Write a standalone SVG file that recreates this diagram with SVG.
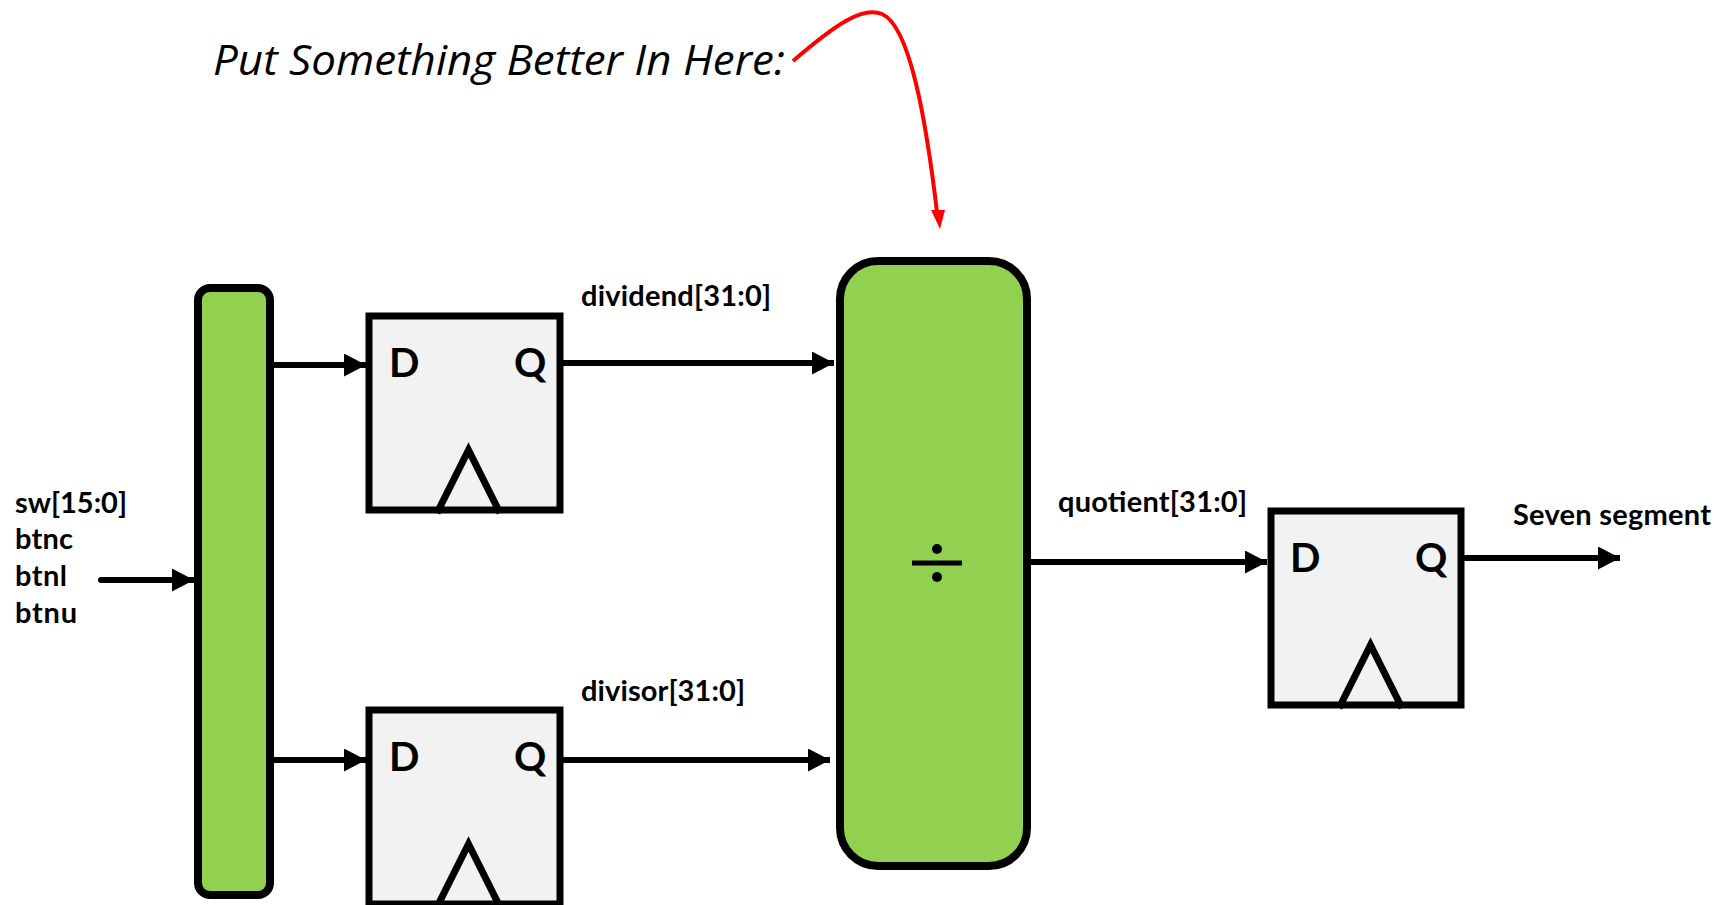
<svg xmlns="http://www.w3.org/2000/svg" width="1733" height="905" viewBox="0 0 1733 905">
  <style>
    .blk { fill: #92D050; stroke: #000; stroke-width: 8; }
    .ff { fill: #F2F2F2; stroke: #000; stroke-width: 7; }
    .clk { fill: none; stroke: #000; stroke-width: 7; stroke-linejoin: miter; }
    .wire { fill: none; stroke: #000; stroke-width: 6; }
    .lbl { font-family: Lato, "Liberation Sans", sans-serif; font-weight: bold; font-size: 29px; fill: #000; }
    .pin { font-family: Lato, "Liberation Sans", sans-serif; font-weight: bold; font-size: 40px; fill: #000; }
    .note { font-family: "Open Sans", "Liberation Sans", sans-serif; font-style: italic; font-size: 42px; fill: #000; }
  </style>
  <defs>
    <marker id="arrow" markerUnits="userSpaceOnUse" markerWidth="24" markerHeight="24" refX="22" refY="11.5" orient="auto">
      <path d="M0,0 L22,11.5 L0,23 z" fill="#000"/>
    </marker>
  </defs>

  <rect width="1733" height="905" fill="#fff"/>

  <!-- annotation -->
  <g id="note">
    <text class="note" x="213" y="75" textLength="572" lengthAdjust="spacingAndGlyphs">Put Something Better In Here:</text>
  </g>

  <!-- input labels -->
  <g id="inputs">
    <text class="lbl" x="15" y="513" textLength="112">sw[15:0]</text>
    <text class="lbl" x="15" y="549" textLength="58">btnc</text>
    <text class="lbl" x="15" y="586" textLength="52">btnl</text>
    <text class="lbl" x="15" y="623" textLength="62">btnu</text>
  </g>

  <!-- input splitter -->
  <g id="splitter">
    <rect class="blk" x="198" y="288" width="72" height="607" rx="12"/>
  </g>

  <!-- dividend register -->
  <g id="ff-dividend">
    <rect class="ff" x="369" y="316" width="191" height="194"/>
    <polyline class="clk" points="437,513 468.5,450 500,513"/>
    <text class="pin" x="389" y="377">D</text>
    <text class="pin" x="514" y="377">Q</text>
  </g>

  <!-- divisor register -->
  <g id="ff-divisor">
    <rect class="ff" x="369" y="710" width="191" height="194"/>
    <polyline class="clk" points="437,907 468.5,844 500,907"/>
    <text class="pin" x="389" y="771">D</text>
    <text class="pin" x="514" y="771">Q</text>
  </g>

  <!-- divider -->
  <g id="divider">
    <rect class="blk" x="840" y="261" width="187" height="605" rx="38"/>
    <line x1="912" y1="563" x2="962" y2="563" stroke="#000" stroke-width="5"/>
    <circle cx="937" cy="549" r="5" fill="#000"/>
    <circle cx="937" cy="577" r="5" fill="#000"/>
  </g>

  <!-- quotient register -->
  <g id="ff-quotient">
    <rect class="ff" x="1271" y="511" width="190" height="194"/>
    <polyline class="clk" points="1339,708 1370.5,645 1402,708"/>
    <text class="pin" x="1290" y="572">D</text>
    <text class="pin" x="1415" y="572">Q</text>
  </g>

  <!-- signal labels -->
  <g id="labels">
    <text class="lbl" x="581" y="306" textLength="190">dividend[31:0]</text>
    <text class="lbl" x="581" y="701" textLength="164">divisor[31:0]</text>
    <text class="lbl" x="1058" y="512" textLength="189">quotient[31:0]</text>
    <text class="lbl" x="1513" y="525" textLength="198">Seven segment</text>
  </g>

  <!-- connectors -->
  <g id="connectors">
    <line class="wire" x1="101" y1="580" x2="194" y2="580" stroke-linecap="round" marker-end="url(#arrow)"/>
    <line class="wire" x1="274" y1="365" x2="366" y2="365" marker-end="url(#arrow)"/>
    <line class="wire" x1="274" y1="760" x2="366" y2="760" marker-end="url(#arrow)"/>
    <line class="wire" x1="563" y1="363" x2="834" y2="363" marker-end="url(#arrow)"/>
    <line class="wire" x1="563" y1="760" x2="830" y2="760" marker-end="url(#arrow)"/>
    <line class="wire" x1="1031" y1="562" x2="1267" y2="562" marker-end="url(#arrow)"/>
    <line class="wire" x1="1464" y1="558" x2="1620" y2="558" marker-end="url(#arrow)"/>
    <path d="M793,61 C835,25 862,6 882,14 C910,26 926,120 937,212" fill="none" stroke="#FF0000" stroke-width="4"/>
    <path d="M931,210 L945,210 L940,229 z" fill="#FF0000"/>
  </g>
</svg>
